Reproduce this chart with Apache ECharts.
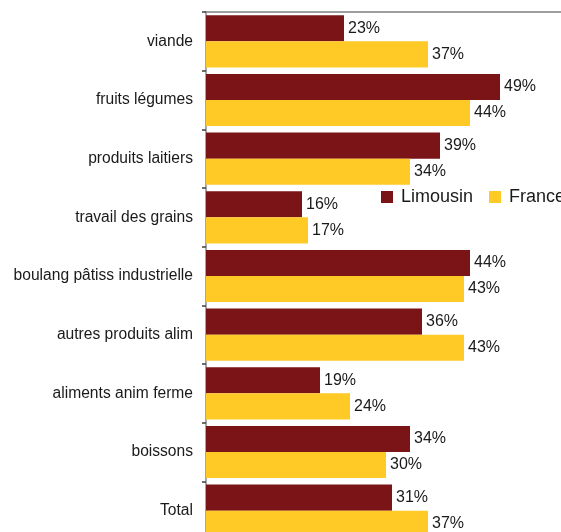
<!DOCTYPE html>
<html>
<head>
<meta charset="utf-8">
<script src="https://cdn.jsdelivr.net/npm/echarts@6/dist/echarts.min.js"></script>
<style>
html,body{margin:0;padding:0;background:#fff;overflow:hidden;}
#c{width:600px;height:560px;}
</style>
</head>
<body>
<div id="c"></div>
<script>
const categories = ['viande','fruits légumes','produits laitiers','travail des grains','boulang pâtiss industrielle','autres produits alim','aliments anim ferme','boissons','Total'];
const limousin = [23,49,39,16,44,36,19,34,31];
const france = [37,44,34,17,43,43,24,30,37];
const seriesNames = ['Limousin','France'];

const chart = echarts.init(document.getElementById('c'), null, {renderer:'canvas'});
const font = 'Liberation Sans, Arial, sans-serif';
const lbl = {show:true, position:'right', distance:4, formatter:'{c}%', color:'#1a1a1a', fontSize:16, fontFamily:font, padding:[2,0,0,0]};
chart.setOption({
  animation:false,
  backgroundColor:'#fff',
  grid:{left:206, top:12, width:360, height:528, containLabel:false},
  legend:{
    left:376, top:183, itemWidth:12, itemHeight:12, itemGap:16,
    icon:'rect',
    textStyle:{fontSize:18, color:'#1a1a1a', fontFamily:font, padding:[0,0,0,3]},
    data:seriesNames
  },
  xAxis:{
    type:'value', position:'top', min:0, max:60,
    axisLine:{show:true, lineStyle:{color:'#7f7f7f', width:1.5}},
    axisTick:{show:false}, axisLabel:{show:false}, splitLine:{show:false}
  },
  yAxis:{
    type:'category', inverse:true, data:categories,
    axisLine:{show:true, lineStyle:{color:'#8a8a8a', width:1.5}},
    axisTick:{show:true, length:4, lineStyle:{color:'#404040', width:1.5}},
    axisLabel:{margin:13, fontSize:15.6, color:'#1a1a1a', fontFamily:font, padding:[5,0,0,0]}
  },
  series:[
    {name:seriesNames[0], type:'bar', data:limousin, itemStyle:{color:'#7b1416'}, barGap:'0%', barCategoryGap:'11%', label:lbl},
    {name:seriesNames[1], type:'bar', data:france, itemStyle:{color:'#ffc926'}, barGap:'0%', barCategoryGap:'11%', label:lbl}
  ]
});
</script>
</body>
</html>
